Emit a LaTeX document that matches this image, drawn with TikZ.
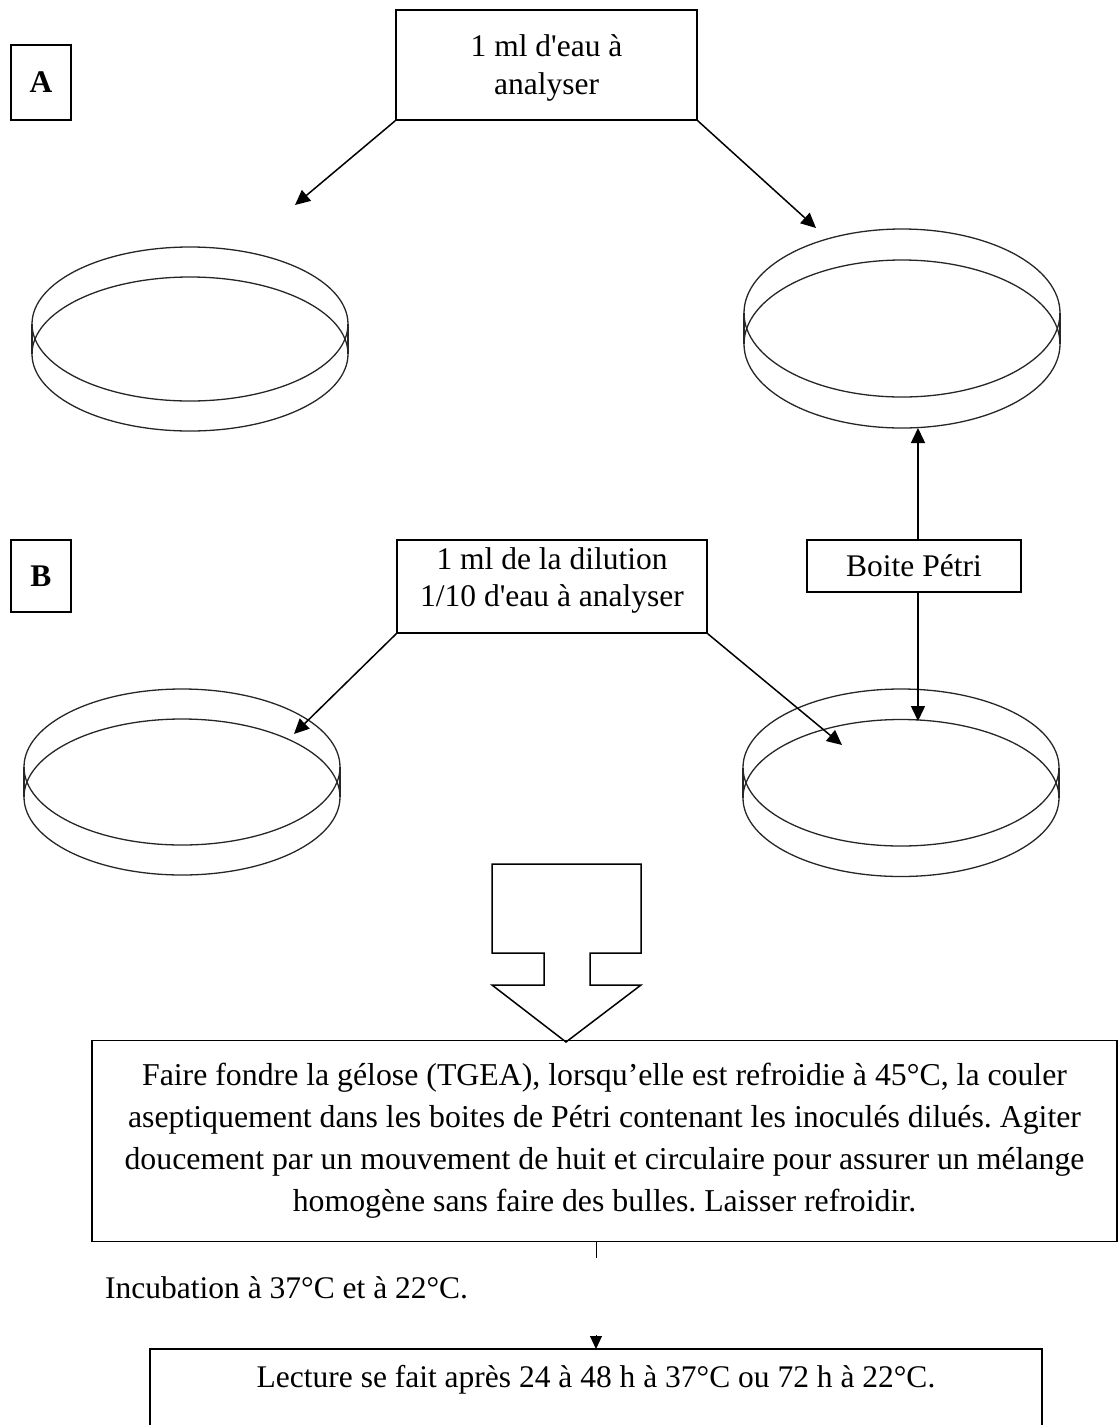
\documentclass[tikz,border=0pt]{standalone}
\usepackage{fontspec}
\setmainfont{Liberation Serif}
% same face without TeX quote ligatures, for the straight apostrophe
\newfontfamily\rawserif{Liberation Serif}
\newcommand\sq{{\rawserif'}}
\usetikzlibrary{arrows.meta}

% a Petri dish: two equal ellipses (lid and base) joined at the sides
% #1 = centre x, #2 = centre y of upper ellipse, #3 = x radius, #4 = y radius, #5 = depth
\newcommand\drawdish[5]{%
  \draw[rim] (#1,#2) ellipse[x radius=#3pt, y radius=#4pt];
  \draw[rim] (#1,#2+#5) ellipse[x radius=#3pt, y radius=#4pt];
  \draw[rim] (#1-#3,#2) -- ++(0,#5);
  \draw[rim] (#1+#3,#2) -- ++(0,#5);
}

\begin{document}
\frenchspacing
\begin{tikzpicture}[x=1pt,y=-1pt,
  every node/.style={font=\fontsize{31.5}{37}\selectfont},
  box/.style={draw, line width=1.5pt, inner sep=0pt, align=center},
  tag/.style={box, font=\fontsize{31.5}{37}\selectfont\bfseries},
  link/.style={line width=1.5pt, -{Triangle[length=15pt,width=14pt]}},
  rim/.style={line width=1.3pt, draw=black!85}]
\useasboundingbox (0,0) rectangle (1119,1425);

% part labels
\node[tag, minimum width=60pt, minimum height=75pt] (A) at (41,82.5) {A};
\node[tag, minimum width=60pt, minimum height=72pt] (B) at (41,576) {B};

% row A
\node[box, minimum width=301pt, minimum height=110pt] (eau) at (546.5,65) {};
\node[align=center, inner sep=0pt, font=\fontsize{31.5}{38}\selectfont] (eautxt) at (546.5,68)
  {1 ml d\sq eau à\\analyser};
\drawdish{190}{324}{158}{77}{30}
\drawdish{902}{313}{158}{84}{31}
\coordinate (dA1) at (295,205);
\coordinate (dA2) at (816,228);
\coordinate (dA2b) at (918,428);
\draw[link] (eau.south west) -- (dA1);
\draw[link] (eau.south east) -- (dA2);

% row B
\node[box, minimum width=310pt, minimum height=93pt] (dil) at (552,586.5) {};
\node[align=center, inner sep=0pt, font=\fontsize{31.5}{37}\selectfont] (diltxt) at (552,580)
  {1 ml de la dilution\\1/10 d\sq eau à analyser};
\node[box, minimum width=214pt, minimum height=52pt] (petri) at (914,566) {Boite Pétri};
\drawdish{182}{767}{158}{78}{30}
\drawdish{901}{767.5}{158}{78.5}{30.5}
\coordinate (dB1) at (294,734);
\coordinate (dB2) at (842,745);
\coordinate (dB2b) at (918,721);
\draw[link] (dil.south west) -- (dB1);
\draw[link] (dil.south east) -- (dB2);
\draw[link] (petri.north -| dA2b) -- (dA2b);
\draw[link] (petri.south -| dB2b) -- (dB2b);

% block arrow down to the procedure
\draw[line width=1.5pt] (492,864) -- (641,864) -- (641,953) -- (590,953) -- (590,985)
  -- (641,985) -- (566,1042) -- (492,985) -- (544,985) -- (544,953) -- (492,953) -- cycle;

\node[box, minimum width=1025pt, minimum height=201pt,
  font=\fontsize{31.8}{42}\selectfont] (proc) at (604.5,1141)
  {Faire fondre la gélose (TGEA), lorsqu’elle est refroidie à 45°C, la couler\\
   aseptiquement dans les boites de Pétri contenant les inoculés dilués. Agiter\\
   doucement par un mouvement de huit et circulaire pour assurer un mélange\\
   homogène sans faire des bulles. Laisser refroidir.};

\coordinate (tick) at (596,1258);
\draw[line width=1pt] (proc.south -| tick) -- (tick);

\node[anchor=west, inner sep=0pt] (incub) at (105,1288) {Incubation à 37°C et à 22°C.};

% reading box, open at the bottom edge
\node[inner sep=0pt] (lect) at (596,1380) {Lecture se fait après 24 à 48 h à 37°C ou 72 h à 22°C.};
\draw[line width=1.5pt] (150,1425) -- (150,1349) -- (1042,1349) -- (1042,1425);
\coordinate (lectop) at (596,1349);
\coordinate (tipstart) at (596,1335);
\draw[line width=1pt, -{Triangle[length=13pt,width=12pt]}] (tipstart) -- (lectop);
\end{tikzpicture}
\end{document}
